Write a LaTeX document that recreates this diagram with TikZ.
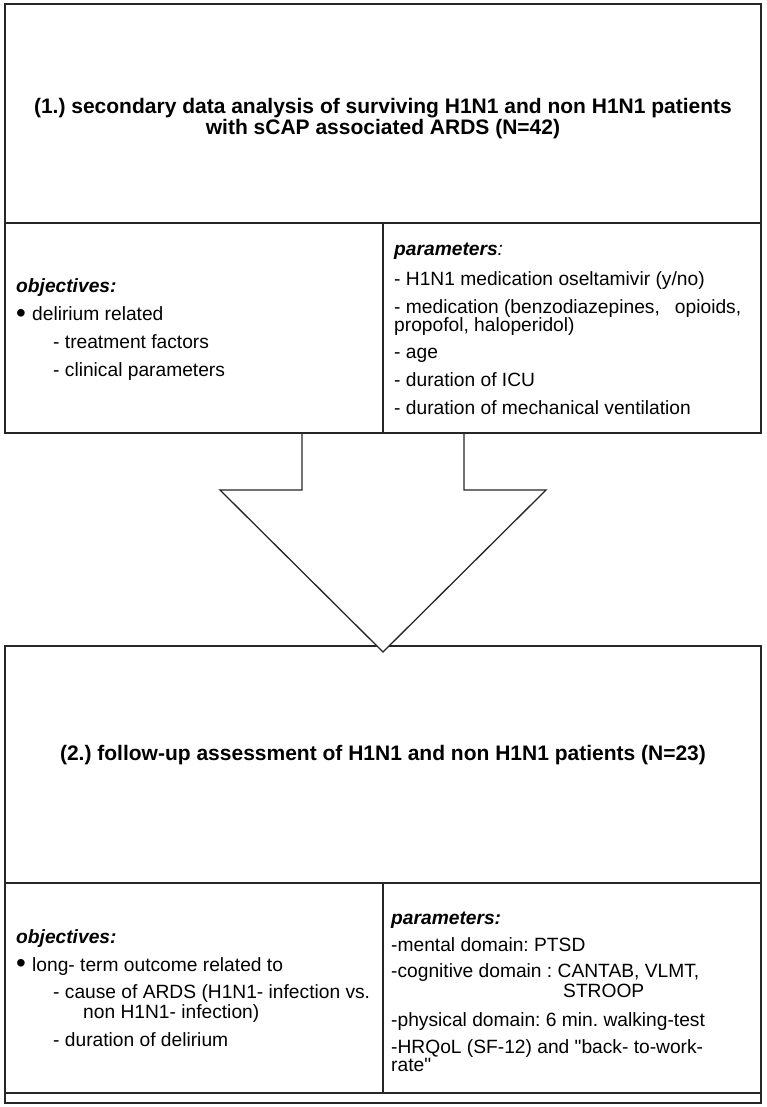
\documentclass[tikz,border=0pt]{standalone}
\usepackage{fontspec}
\setmainfont{Liberation Sans}
\frenchspacing

\tikzset{
  frame/.style={draw=black!85, line width=1.3pt},
  headline/.style={font=\fontsize{21}{21}\selectfont\bfseries, align=center, anchor=base, inner sep=0pt},
  itemtext/.style={font=\fontsize{19.2}{20}\selectfont, align=left, anchor=base west, inner sep=0pt}
}
\newcommand{\hd}[1]{\textbf{\textit{#1}}}
\newcommand{\bigdot}{\makebox[16pt][l]{\raisebox{-1.6pt}{\scalebox{1.45}{\textbullet}}}}

\begin{document}
\begin{tikzpicture}[x=1pt,y=-1pt]
  \useasboundingbox (0,0) rectangle (766,1107);

  %%%%%%%%%%%%%%%%%%%%%% STEP 2 %%%%%%%%%%%%%%%%%%%%%%
  \foreach \xa/\ya/\xb/\yb in {5/646/761/883,5/883/383/1093,383/883/761/1093,5/1093/761/1103}
    \draw[frame] (\xa,\ya) rectangle (\xb,\yb);

  % big arrow from step 1 down to step 2
  \draw[frame, fill=white] (302,433) -- (302,490) -- (220,490) -- (383,652)
    -- (546,490) -- (464,490) -- (464,433);

  %%%%%%%%%%%%%%%%%%%%%% STEP 1 %%%%%%%%%%%%%%%%%%%%%%
  \foreach \xa/\ya/\xb/\yb in {5/4/761/223,5/223/383/433,383/223/761/433}
    \draw[frame] (\xa,\ya) rectangle (\xb,\yb);

  % base anchor = baseline of the last line
  \node[headline] (title1) at (383,135)
    {(1.) secondary data analysis of surviving H1N1 and non H1N1 patients\\
     with sCAP associated ARDS (N=42)};

  \node[itemtext] (obj1) at (16,376)
    {\hd{objectives:}\\[7.7pt]
     \bigdot delirium related\\[7.7pt]
     \hspace*{37pt}- treatment factors\\[7.7pt]
     \hspace*{37pt}- clinical parameters};

  \node[itemtext] (par1) at (394,414)
    {\hd{parameters}\textit{:}\\[10pt]
     - H1N1 medication oseltamivir (y/no)\\[8pt]
     \makebox[347pt][l]{- medication (benzodiazepines,\hfill opioids,}\\[-2pt]
     propofol, haloperidol)\\[6.3pt]
     - age\\[8.7pt]
     - duration of ICU\\[7.3pt]
     - duration of mechanical ventilation};

  \node[headline] (title2) at (383,760)
    {(2.) follow-up assessment of H1N1 and non H1N1 patients (N=23)};

  \node[itemtext] (obj2) at (16,1046.7)
    {\hd{objectives:}\\[7.7pt]
     \bigdot long- term outcome related to\\[7.3pt]
     \hspace*{37pt}- cause of ARDS (H1N1- infection vs.\\
     \hspace*{67pt}non H1N1- infection)\\[8.4pt]
     \hspace*{37pt}- duration of delirium};

  \node[itemtext] (par2) at (391,1071.7)
    {\hd{parameters:}\\[7.7pt]
     -mental domain: PTSD\\[5.6pt]
     -cognitive domain : CANTAB, VLMT,\\
     \hspace*{172pt}STROOP\\[8.7pt]
     -physical domain: 6 min. walking-test\\[7.3pt]
     -HRQoL (SF-12) and \textquotedbl back- to-work-\\[-1.6pt]
     rate\textquotedbl};
\end{tikzpicture}
\end{document}
